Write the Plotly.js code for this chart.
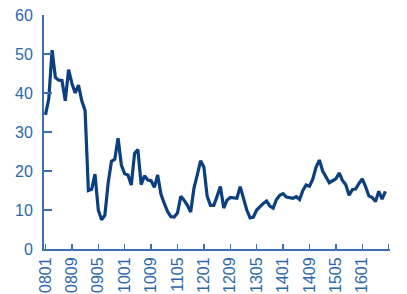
<!DOCTYPE html>
<html>
<head>
<meta charset="utf-8">
<script src="https://cdn.plot.ly/plotly-3.0.1.min.js"></script>
<style>html,body{margin:0;padding:0;background:#fff;}#chart{width:407px;height:294px;}</style>
</head>
<body>
<div id="chart"></div>
<script>
// Monthly values, 2008-01 .. 2016-08
var values = [
  34.4, 38.5, 51.0, 44.0, 43.3, 43.2, 38.0, 46.0, 42.5, 40.0, 42.0, 38.0,
  35.5, 15.0, 15.3, 19.2, 10.0, 7.5, 8.7, 17.0, 22.5, 23.0, 28.4, 21.5,
  19.3, 19.0, 16.4, 24.5, 25.5, 16.5, 18.8, 17.7, 17.5, 15.8, 19.0, 14.0,
  11.7, 9.6, 8.3, 8.2, 9.2, 13.5, 12.5, 11.2, 9.5, 15.6, 19.0, 22.6,
  21.0, 13.5, 11.2, 11.2, 13.5, 16.0, 10.5, 12.5, 13.2, 13.2, 13.0, 16.0,
  13.0, 10.0, 8.0, 8.2, 10.0, 10.9, 11.7, 12.3, 11.0, 10.5, 12.7, 13.8,
  14.2, 13.3, 13.1, 13.0, 13.4, 12.7, 15.0, 16.4, 16.1, 17.9, 21.0, 22.8,
  20.0, 18.5, 17.0, 17.5, 18.0, 19.5, 17.6, 16.5, 13.8, 15.2, 15.4, 16.8,
  18.0, 16.0, 13.6, 13.2, 12.2, 14.8, 12.8, 14.8
];
var tickLabels = ['0801','0809','0905','1001','1009','1105','1201','1209','1305','1401','1409','1505','1601',''];
var tickPositions = [0, 8, 16, 24, 32, 40, 48, 56, 64, 72, 80, 88, 96, 104];
var yTicks = [0, 10, 20, 30, 40, 50, 60];

var months = [];
for (var y = 8; y <= 16; y++) {
  for (var m = 1; m <= 12; m++) {
    if (months.length < values.length) {
      months.push((y < 10 ? '0' + y : '' + y) + (m < 10 ? '0' + m : '' + m));
    }
  }
}
var xIdx = values.map(function (v, i) { return i; });

var axisColor = '#3a70b0';
var textColor = '#2c68ab';

Plotly.newPlot('chart', [{
  type: 'scatter',
  mode: 'lines',
  x: xIdx,
  y: values,
  text: months,
  hoverinfo: 'text+y',
  line: {color: '#0b3f80', width: 3.2},
  showlegend: false
}], {
  width: 407,
  height: 294,
  margin: {l: 44, r: 17, t: 15, b: 45, pad: 0},
  paper_bgcolor: '#ffffff',
  plot_bgcolor: '#ffffff',
  font: {family: 'Liberation Sans, Arial, sans-serif', size: 16, color: textColor},
  xaxis: {
    range: [-0.45, 104.4],
    tickmode: 'array',
    tickvals: tickPositions,
    ticktext: tickLabels,
    tickangle: -90,
    ticks: 'inside',
    ticklen: 5,
    tickwidth: 1.5,
    tickcolor: axisColor,
    showline: true,
    linecolor: axisColor,
    linewidth: 2,
    showgrid: false,
    zeroline: false,
    ticklabelstandoff: 0,
    tickfont: {size: 16, color: textColor},
    fixedrange: true
  },
  yaxis: {
    range: [0, 60],
    tickmode: 'array',
    tickvals: yTicks,
    ticks: 'inside',
    ticklen: 8,
    tickwidth: 1.5,
    tickcolor: axisColor,
    showline: true,
    linecolor: axisColor,
    linewidth: 2,
    showgrid: false,
    zeroline: false,
    ticklabelstandoff: 6,
    tickfont: {size: 16, color: textColor},
    fixedrange: true
  }
}, {displayModeBar: false, staticPlot: true});
</script>
</body>
</html>
